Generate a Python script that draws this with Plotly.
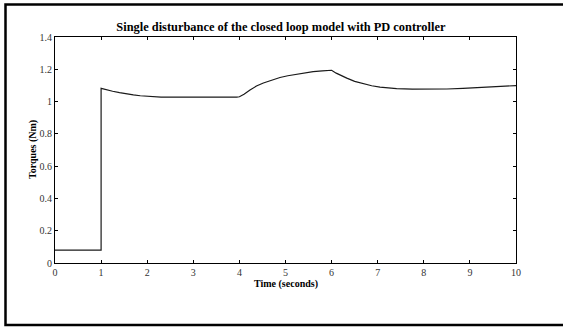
import plotly.graph_objects as go

time_s = [0.0, 1.0, 1.0, 1.1, 1.25, 1.4, 1.55, 1.7, 1.85, 2.0, 2.13, 2.3, 2.5, 3.0, 3.5, 3.94,
          4.0, 4.1, 4.23, 4.37, 4.52, 4.7, 4.88, 5.05, 5.24, 5.42, 5.60, 5.8, 5.97, 6.0,
          6.1, 6.2, 6.33, 6.5, 6.69, 6.87, 7.05, 7.23, 7.41, 7.75, 8.13, 8.5, 8.85, 9.4, 10.0]
torque = [0.08, 0.08, 1.082, 1.074, 1.064, 1.055, 1.047, 1.041, 1.036, 1.032, 1.030, 1.028,
          1.027, 1.026, 1.026, 1.027, 1.030, 1.045, 1.072, 1.096, 1.115, 1.134, 1.149, 1.160,
          1.170, 1.178, 1.185, 1.190, 1.194, 1.194, 1.176, 1.161, 1.145, 1.125, 1.109, 1.098,
          1.090, 1.084, 1.080, 1.077, 1.077, 1.078, 1.082, 1.090, 1.099]

x_ticks = list(range(0, 11))
y_ticks = [0, 0.2, 0.4, 0.6, 0.8, 1.0, 1.2, 1.4]
y_tick_labels = ["0", "0.2", "0.4", "0.6", "0.8", "1", "1.2", "1.4"]

title_text = "Single disturbance of the closed loop model with PD controller"
x_title = "Time (seconds)"
y_title = "Torques (Nm)"

serif = "Liberation Serif"

fig = go.Figure()
fig.add_trace(go.Scatter(x=time_s, y=torque, mode="lines",
                         line=dict(color="#1a1a1a", width=1.2),
                         showlegend=False, hoverinfo="skip"))

axis_common = dict(showgrid=False, zeroline=False, showline=True, linecolor="black",
                   linewidth=1, mirror="ticks", ticks="inside", ticklen=3, tickwidth=1,
                   tickcolor="black", tickfont=dict(family=serif, size=10, color="#333"))

fig.update_layout(
    width=563, height=329,
    margin=dict(l=55, r=47, t=37, b=66),
    paper_bgcolor="white", plot_bgcolor="white",
    xaxis=dict(range=[0, 10], tickvals=x_ticks, **axis_common),
    yaxis=dict(range=[0, 1.4], tickvals=y_ticks, ticktext=y_tick_labels, **axis_common),
    title=dict(text=title_text, x=(285 - 55) / 461, xanchor="center", y=1 - 26.5 / 329,
               yanchor="middle",
               font=dict(family=serif, size=12.4, color="black", weight="bold")),
    annotations=[
        dict(text=x_title, xref="paper", yref="paper", x=(286 - 55) / 461, y=(263 - 284) / 226,
             xanchor="center", yanchor="middle", showarrow=False,
             font=dict(family=serif, size=10, color="black", weight="bold")),
        dict(text=y_title, xref="paper", yref="paper", x=(33 - 55) / 461, y=0.5,
             xanchor="center", yanchor="middle", showarrow=False, textangle=-90,
             font=dict(family=serif, size=10, color="black", weight="bold")),
    ],
    shapes=[
        dict(type="rect", xref="paper", yref="paper",
             x0=(5.5 - 55) / 461, x1=(575 - 55) / 461,
             y0=(263 - 325) / 226, y1=(263 - 4.5) / 226,
             line=dict(color="black", width=2.5), fillcolor="rgba(0,0,0,0)", layer="above"),
    ],
)

fig.write_html("out.html")
